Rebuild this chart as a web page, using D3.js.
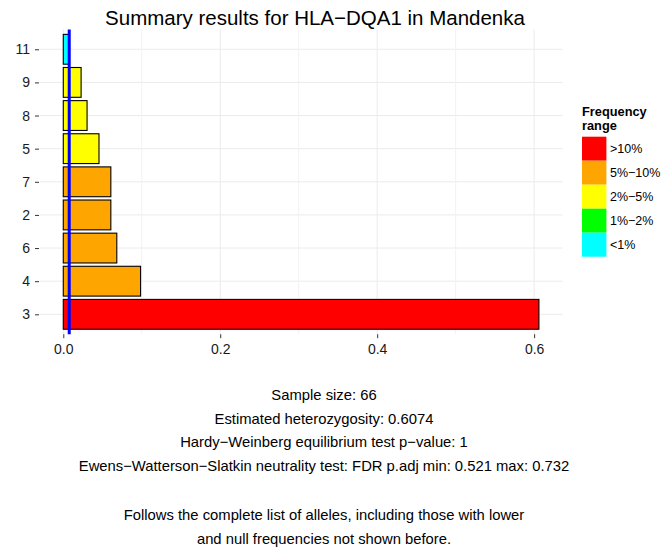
<!DOCTYPE html>
<html>
<head>
<meta charset="utf-8">
<script src="https://cdn.jsdelivr.net/npm/d3@7"></script>
<style>
  html, body { margin: 0; padding: 0; background: #ffffff; }
  svg { display: block; font-family: "Liberation Sans", Arial, Helvetica, sans-serif; }
</style>
</head>
<body>
<svg id="chart" width="667" height="550"></svg>
<script>
// Alleles, listed from top to bottom of the bar chart
const alleles = ["11", "9", "8", "5", "7", "2", "6", "4", "3"];
// Allele frequencies (allele counts over 2 x 66 chromosomes)
const frequencies = [0.0076, 0.0227, 0.0303, 0.0455, 0.0606, 0.0606, 0.0682, 0.0985, 0.6061];

// Frequency range classes for the fill colour
const rangeBreaks = [0.01, 0.02, 0.05, 0.10];
const rangeColors = ["#00FFFF", "#00FF00", "#FFFF00", "#FFA500", "#FF0000"];
const legendLabels = [">10%", "5%\u221210%", "2%\u22125%", "1%\u22122%", "<1%"];
const legendColors = ["#FF0000", "#FFA500", "#FFFF00", "#00FF00", "#00FFFF"];

// X axis ticks
const xMajorTicks = [0, 0.2, 0.4, 0.6];
const xMinorTicks = [0.1, 0.3, 0.5];
const xTickLabels = ["0.0", "0.2", "0.4", "0.6"];

const sampleSize = 66;
const titleText = "Summary results for HLA\u2212DQA1 in Mandenka";
const summaryLines = [
  "Sample size: 66",
  "Estimated heterozygosity: 0.6074",
  "Hardy\u2212Weinberg equilibrium test p\u2212value: 1",
  "Ewens\u2212Watterson\u2212Slatkin neutrality test: FDR p.adj min: 0.521 max: 0.732"
];
const noteLines = [
  "Follows the complete list of alleles, including those with lower",
  "and null frequencies not shown before."
];

const FONT = '"Liberation Sans", Arial, Helvetica, sans-serif';
const svg = d3.select("#chart");

// Panel geometry
const panel = { left: 39.5, right: 562.7, top: 29.4, bottom: 334.2 };

const maxF = d3.max(frequencies);
const x = d3.scaleLinear()
  .domain([-0.05 * maxF, 1.05 * maxF])
  .range([panel.left, panel.right]);

const y = d3.scalePoint()
  .domain(alleles)
  .range([panel.top, panel.bottom])
  .padding(0.6);
const barH = y.step() * 0.9;

const fillFor = d3.scaleThreshold().domain(rangeBreaks).range(rangeColors);

// Grid lines
const grid = svg.append("g").attr("class", "grid");
grid.selectAll("line.h").data(alleles).join("line")
  .attr("x1", panel.left).attr("x2", panel.right)
  .attr("y1", d => y(d)).attr("y2", d => y(d))
  .attr("stroke", "#ebebeb").attr("stroke-width", 1);
grid.selectAll("line.vmin").data(xMinorTicks).join("line")
  .attr("x1", d => x(d)).attr("x2", d => x(d))
  .attr("y1", panel.top).attr("y2", panel.bottom)
  .attr("stroke", "#f2f2f2").attr("stroke-width", 1);
grid.selectAll("line.vmaj").data(xMajorTicks).join("line")
  .attr("x1", d => x(d)).attr("x2", d => x(d))
  .attr("y1", panel.top).attr("y2", panel.bottom)
  .attr("stroke", "#ebebeb").attr("stroke-width", 1);

// Bars
const data = alleles.map((a, i) => ({ allele: a, f: frequencies[i] }));
svg.append("g").selectAll("rect").data(data).join("rect")
  .attr("x", x(0))
  .attr("y", d => y(d.allele) - barH / 2)
  .attr("width", d => x(d.f) - x(0))
  .attr("height", barH)
  .attr("fill", d => fillFor(d.f))
  .attr("stroke", "#000000")
  .attr("stroke-width", 1.1);

// Reference line at the frequency of a single allele copy
const singleCopy = 1 / (2 * sampleSize);
svg.append("line")
  .attr("x1", x(singleCopy)).attr("x2", x(singleCopy))
  .attr("y1", panel.top).attr("y2", panel.bottom)
  .attr("stroke", "#0000FF").attr("stroke-width", 3);

// Y axis (allele names)
const yAxis = d3.axisLeft(y).tickSize(4).tickPadding(5);
const gy = svg.append("g")
  .attr("transform", `translate(${panel.left - 0.5},0)`)
  .call(yAxis)
  .attr("font-family", FONT).attr("font-size", 14);
gy.select(".domain").remove();
gy.selectAll(".tick line").attr("stroke", "#333333");
gy.selectAll(".tick text").attr("fill", "#1a1a1a");

// X axis
const xAxis = d3.axisBottom(x).tickValues(xMajorTicks)
  .tickFormat((d, i) => xTickLabels[i]).tickSize(4).tickPadding(6);
const gx = svg.append("g")
  .attr("transform", `translate(0,${panel.bottom})`)
  .call(xAxis)
  .attr("font-family", FONT).attr("font-size", 14);
gx.select(".domain").remove();
gx.selectAll(".tick line").attr("stroke", "#333333");
gx.selectAll(".tick text").attr("fill", "#1a1a1a");

// Title
svg.append("text")
  .attr("x", 315).attr("y", 25)
  .attr("text-anchor", "middle")
  .style("font-size", "20.5px")
  .attr("fill", "#000000")
  .text(titleText);

// Legend
const legend = svg.append("g").attr("transform", "translate(582,0)");
legend.append("text").attr("x", 0).attr("y", 116)
  .style("font-size", "12.8px").style("font-weight", "bold").text("Frequency");
legend.append("text").attr("x", 0).attr("y", 129.5)
  .style("font-size", "12.8px").style("font-weight", "bold").text("range");
const keyH = 24;
legend.selectAll("rect").data(legendColors).join("rect")
  .attr("x", 0).attr("y", (d, i) => 136.7 + i * keyH)
  .attr("width", 24.4).attr("height", keyH)
  .attr("fill", d => d);
legend.selectAll("text.lab").data(legendLabels).join("text")
  .attr("class", "lab")
  .attr("x", 28).attr("y", (d, i) => 136.7 + i * keyH + keyH / 2)
  .attr("dominant-baseline", "central")
  .style("font-size", "12.5px")
  .text(d => d);

// Summary text beneath the chart
const lineGap = 23.7;
svg.append("g").selectAll("text").data(summaryLines).join("text")
  .attr("x", 324).attr("y", (d, i) => 400 + i * lineGap)
  .attr("text-anchor", "middle")
  .style("font-size", "14.8px")
  .text(d => d);
svg.append("g").selectAll("text").data(noteLines).join("text")
  .attr("x", 324).attr("y", (d, i) => 520 + i * lineGap)
  .attr("text-anchor", "middle")
  .style("font-size", "14.8px")
  .text(d => d);
</script>
</body>
</html>
